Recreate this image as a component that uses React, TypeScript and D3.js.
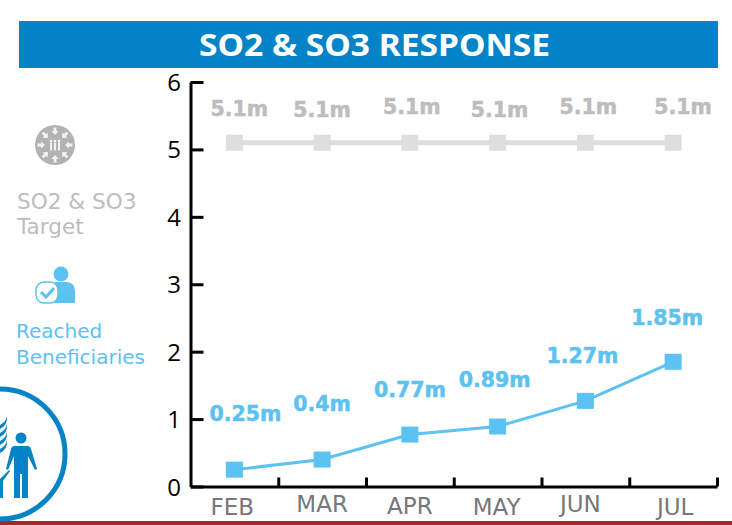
import { useEffect, useRef } from 'react'
import * as d3 from 'd3'

const months = ['FEB', 'MAR', 'APR', 'MAY', 'JUN', 'JUL']
const targetValues = [5.1, 5.1, 5.1, 5.1, 5.1, 5.1]
const reachedValues = [0.25, 0.4, 0.77, 0.89, 1.27, 1.85]
const targetLabels = ['5.1m', '5.1m', '5.1m', '5.1m', '5.1m', '5.1m']
const reachedLabels = ['0.25m', '0.4m', '0.77m', '0.89m', '1.27m', '1.85m']
const yTicks = [0, 1, 2, 3, 4, 5, 6]

// hand placed label nudges, the source labels are not aligned to the points
const targetNudge = [[5, -27], [0, -26], [2, -29], [2, -26], [3, -29], [10, -29]]
const reachedNudge = [[11, -49], [0, -49], [0, -38], [-3, -39], [-3, -38], [-6, -37]]
const monthNudge = [[-2, 0], [0, -3], [0, -1], [-1, 0], [-5, -3], [2, 0]]

const BLUE = '#0583c7'
const SKY = '#5bc2f2'
const GREY = '#dedede'
const GREY_TEXT = '#bdbdbd'
const VERDANA = '"DejaVu Sans", sans-serif'
const TICK_FONT = '"Open Sans", "Noto Sans", sans-serif'

export default function App() {
  const svgRef = useRef<SVGSVGElement>(null)

  useEffect(() => {
    const svg = d3.select(svgRef.current)
    svg.selectAll('*').remove()

    const x = d3.scaleBand<string>().domain(months).range([190.5, 717])
    const y = d3.scaleLinear().domain([0, 6]).range([486.5, 82])
    const cx = (i: number) => (x(months[i]) as number) + x.bandwidth() / 2

    // header
    svg.append('rect').attr('x', 19).attr('y', 21).attr('width', 699).attr('height', 47).attr('fill', BLUE)
    svg.append('text').attr('x', 199).attr('y', 56)
      .attr('fill', '#fff').attr('font-family', '"Noto Sans", sans-serif').attr('font-weight', 700).attr('font-size', 30)
      .attr('textLength', 351).attr('lengthAdjust', 'spacingAndGlyphs')
      .text('SO2 & SO3 RESPONSE')

    // bottom rule
    svg.append('rect').attr('x', 0).attr('y', 521).attr('width', 732).attr('height', 4).attr('fill', '#9c2b2b')

    // axes
    const axisG = svg.append('g')
    axisG.append('g')
      .attr('transform', 'translate(190.5,0)')
      .call(d3.axisRight(y).tickValues(yTicks).tickSize(13).tickFormat(() => '').tickSizeOuter(0))
      .call((ax) => ax.select('.domain').attr('stroke', '#000').attr('stroke-width', 3))
      .call((ax) => ax.selectAll('.tick line').attr('stroke', '#000').attr('stroke-width', 3))
    axisG.append('g')
      .attr('transform', 'translate(0,486.5)')
      .call(d3.axisTop(d3.scaleLinear().domain([0, 6]).range([190.5, 717]))
        .tickValues([1, 2, 3, 4, 5, 6]).tickSize(9).tickFormat(() => '').tickSizeOuter(0))
      .call((ax) => ax.select('.domain').attr('stroke', '#000').attr('stroke-width', 3))
      .call((ax) => ax.selectAll('.tick line').attr('stroke', '#000').attr('stroke-width', 3))

    yTicks.forEach((t) => {
      svg.append('text').attr('x', 181).attr('y', y(t) + 9).attr('text-anchor', 'end')
        .attr('font-family', TICK_FONT).attr('font-size', 24).attr('fill', '#000').text(t)
    })
    months.forEach((m, i) => {
      svg.append('text').attr('x', cx(i) + monthNudge[i][0]).attr('y', 515 + monthNudge[i][1])
        .attr('text-anchor', 'middle').attr('font-family', VERDANA).attr('font-size', 23)
        .attr('fill', '#77777b').text(m)
    })

    // series
    const line = d3.line<number>().x((_, i) => cx(i)).y((d) => y(d))
    const series = [
      { values: targetValues, labels: targetLabels, nudge: targetNudge, color: GREY, text: GREY_TEXT, w: 5 },
      { values: reachedValues, labels: reachedLabels, nudge: reachedNudge, color: SKY, text: SKY, w: 3 },
    ]
    series.forEach((s) => {
      svg.append('path').datum(s.values).attr('fill', 'none').attr('stroke', s.color)
        .attr('stroke-width', s.w).attr('d', line)
      s.values.forEach((v, i) => {
        svg.append('rect').attr('x', cx(i) - 8.5).attr('y', y(v) - 8).attr('width', 17).attr('height', 16)
          .attr('fill', s.color)
        svg.append('text').attr('x', cx(i) + s.nudge[i][0]).attr('y', y(v) + s.nudge[i][1])
          .attr('text-anchor', 'middle').attr('font-family', VERDANA).attr('font-weight', 700)
          .attr('font-size', 20.5).attr('fill', s.text)
          .attr('stroke', s.text).attr('stroke-width', 0.5).text(s.labels[i])
      })
    })

    // legend: target icon
    const tIcon = svg.append('g').attr('transform', 'translate(55,145)')
    tIcon.append('circle').attr('r', 20).attr('fill', '#b3b3b3')
    d3.range(8).forEach((k) => {
      tIcon.append('path').attr('transform', `rotate(${k * 45}) translate(0,-14)`)
        .attr('d', 'M-1.4,-3.5H1.4V0H3.6L0,4L-3.6,0H-1.4Z').attr('fill', '#f2f2f2')
    })
    ;[-4, 0, 4].forEach((dx) => {
      tIcon.append('circle').attr('cx', dx).attr('cy', -4).attr('r', 1.3).attr('fill', '#f2f2f2')
      tIcon.append('rect').attr('x', dx - 1).attr('y', -2.5).attr('width', 2).attr('height', 8).attr('fill', '#f2f2f2')
    })
    svg.append('text').attr('font-family', VERDANA).attr('font-size', 21.6).attr('fill', GREY_TEXT)
      .attr('x', 17).attr('y', 209).text('SO2 & SO3')
    svg.append('text').attr('font-family', VERDANA).attr('font-size', 21.6).attr('fill', GREY_TEXT)
      .attr('x', 17).attr('y', 234).text('Target')

    // legend: reached icon
    const rIcon = svg.append('g').attr('transform', 'translate(55,285)')
    rIcon.append('circle').attr('cx', 6).attr('cy', -11).attr('r', 7.5).attr('fill', SKY)
    rIcon.append('path').attr('d', 'M0,-3H12Q20,-2 20,6V18H0Z').attr('fill', SKY)
    rIcon.append('rect').attr('x', -19).attr('y', -3).attr('width', 22).attr('height', 21).attr('rx', 8)
      .attr('fill', '#fff').attr('stroke', SKY).attr('stroke-width', 1.5)
    rIcon.append('path').attr('d', 'M-14,7L-9,12L-1,3').attr('fill', 'none').attr('stroke', SKY).attr('stroke-width', 3)
    svg.append('text').attr('font-family', VERDANA).attr('font-size', 20).attr('fill', SKY)
      .attr('x', 16).attr('y', 338).text('Reached')
    svg.append('text').attr('font-family', VERDANA).attr('font-size', 20).attr('fill', SKY)
      .attr('x', 16).attr('y', 364).text('Beneficiaries')

    // cropped emblem, bottom left
    const emblem = svg.append('g')
    emblem.append('circle').attr('cx', 0).attr('cy', 454).attr('r', 65).attr('fill', '#fff')
      .attr('stroke', BLUE).attr('stroke-width', 5)
    emblem.append('circle').attr('cx', 21).attr('cy', 438).attr('r', 5.5).attr('fill', BLUE)
    emblem.append('path')
      .attr('d', 'M14,446H28Q30,446 31,449L37,469L35,470L28,456V498H22V474H20V498H14V456L8,470L6,469L11,449Q12,446 14,446Z')
      .attr('fill', BLUE)
    emblem.append('path').attr('d', 'M0,479L9,470L10,471L3,481V498H0Z').attr('fill', BLUE)
    ;[420, 428, 436, 444].forEach((yy) => {
      emblem.append('path').attr('d', `M0,${yy + 5}Q6,${yy + 2} 7,${yy - 4}Q8,${yy + 5} 0,${yy + 9}Z`).attr('fill', BLUE)
    })

    return () => {
      svg.selectAll('*').remove()
    }
  }, [])

  return <svg ref={svgRef} width={732} height={525} style={{ position: 'absolute', left: 0, top: 0 }} />
}
